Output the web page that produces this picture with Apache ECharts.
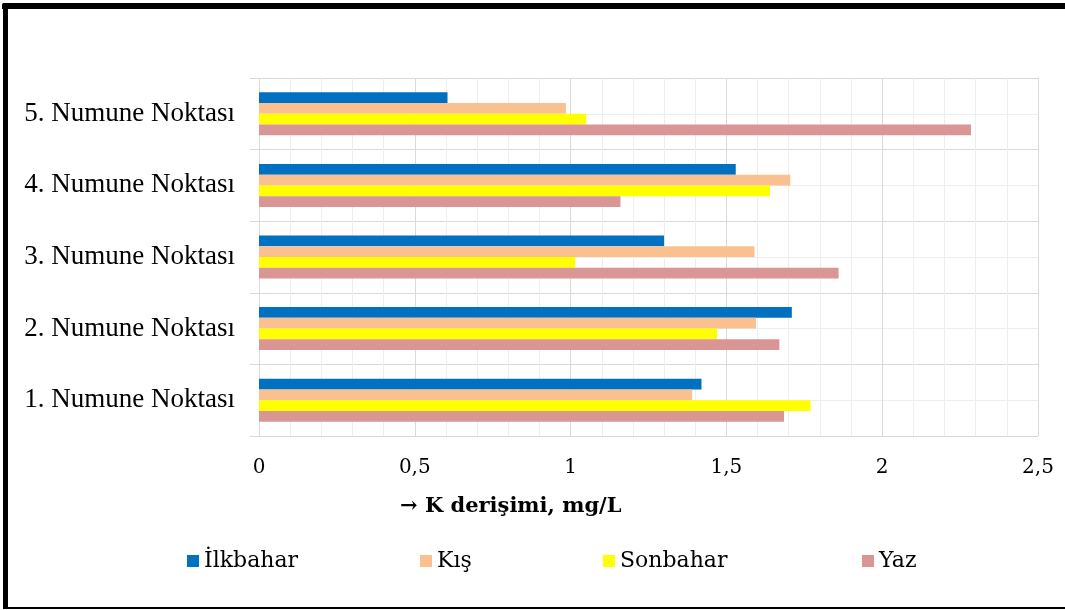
<!DOCTYPE html>
<html>
<head>
<meta charset="utf-8">
<script src="https://cdn.jsdelivr.net/npm/echarts@6/dist/echarts.min.js"></script>
<style>
  html, body { margin: 0; padding: 0; background: #fff; }
  #chart { width: 1065px; height: 610px; }
</style>
</head>
<body>
<div id="chart"></div>
<script>
// Sampling points, bottom to top on the category axis
const categories = ['1. Numune Noktası', '2. Numune Noktası', '3. Numune Noktası', '4. Numune Noktası', '5. Numune Noktası'];

// K concentration (mg/L) per season, same order as categories
const ilkbahar = [1.42, 1.71, 1.30, 1.53, 0.605];
const kis      = [1.39, 1.595, 1.59, 1.705, 0.985];
const sonbahar = [1.77, 1.47, 1.015, 1.64, 1.05];
const yaz      = [1.685, 1.67, 1.86, 1.16, 2.285];

const seasonNames = ['İlkbahar', 'Kış', 'Sonbahar', 'Yaz'];
const seasonColors = ['#0070C0', '#FAC090', '#FFFF00', '#D99694'];
const seasonData = [ilkbahar, kis, sonbahar, yaz];

const axisTitle = '→ K derişimi, mg/L';

const serifWide = 'DejaVu Serif';
const serif = 'Liberation Serif';

// First season sits at the top of each band, last one at the bottom
const series = seasonNames.map((name, i) => ({
  name: name,
  type: 'bar',
  yAxisIndex: 0,
  data: seasonData[i],
  barCategoryGap: '40%',
  barGap: '0%',
  itemStyle: { color: seasonColors[i] }
}));

// One legend block per season so each entry sits at its own spot along the row
const legendLefts = [187, 420, 603, 862];
const legends = seasonNames.map((name, i) => ({
  data: [name],
  left: legendLefts[i],
  top: 550,
  padding: 0,
  icon: 'rect',
  itemWidth: 12,
  itemHeight: 12,
  selectedMode: false,
  textStyle: { fontFamily: serifWide, fontSize: 22, color: '#000' }
}));

const chart = echarts.init(document.getElementById('chart'), null, { renderer: 'canvas' });
chart.setOption({
  animation: false,
  backgroundColor: '#fff',
  title: {
    text: axisTitle,
    left: 400,
    top: 496,
    padding: 0,
    textStyle: { fontFamily: serifWide, fontWeight: 'bold', fontSize: 21, color: '#000' }
  },
  legend: legends,
  grid: { left: 259, right: 27, top: 78, bottom: 174, containLabel: false },
  xAxis: {
    type: 'value',
    min: 0,
    max: 2.5,
    interval: 0.5,
    axisLine: { show: false },
    axisTick: { show: false },
    axisLabel: {
      margin: 22,
      fontFamily: serifWide,
      fontSize: 20,
      color: '#000',
      formatter: v => String(v).replace('.', ',')
    },
    splitLine: { show: true, lineStyle: { color: '#d9d9d9', width: 1 } },
    minorTick: { show: false, splitNumber: 5 },
    minorSplitLine: { show: true, lineStyle: { color: '#eeeeee', width: 1 } }
  },
  yAxis: [
    {
      type: 'category',
      data: categories,
      axisLine: { show: false },
      axisTick: { show: true, length: 9, lineStyle: { color: '#d9d9d9' } },
      axisLabel: { margin: 24, fontFamily: serif, fontSize: 27, color: '#000' },
      splitLine: { show: false }
    },
    {
      type: 'value',
      min: 0,
      max: 5,
      interval: 1,
      position: 'left',
      axisLine: { show: false },
      axisTick: { show: false },
      axisLabel: { show: false },
      splitLine: { show: true, lineStyle: { color: '#d9d9d9', width: 1 } },
      minorTick: { show: false, splitNumber: 2 },
      minorSplitLine: { show: true, lineStyle: { color: '#eeeeee', width: 1 } }
    }
  ],
  series: series,
  graphic: [
    // Frame around the figure: heavy top and left edges, thin bottom edge
    { type: 'rect', shape: { x: 2, y: 3, width: 1063, height: 6, r: [2, 0, 0, 0] }, style: { fill: '#000' }, silent: true },
    { type: 'rect', shape: { x: 3, y: 3, width: 5, height: 606 }, style: { fill: '#000' }, silent: true },
    { type: 'rect', shape: { x: 3, y: 607, width: 1062, height: 2 }, style: { fill: '#000' }, silent: true }
  ]
});
</script>
</body>
</html>
